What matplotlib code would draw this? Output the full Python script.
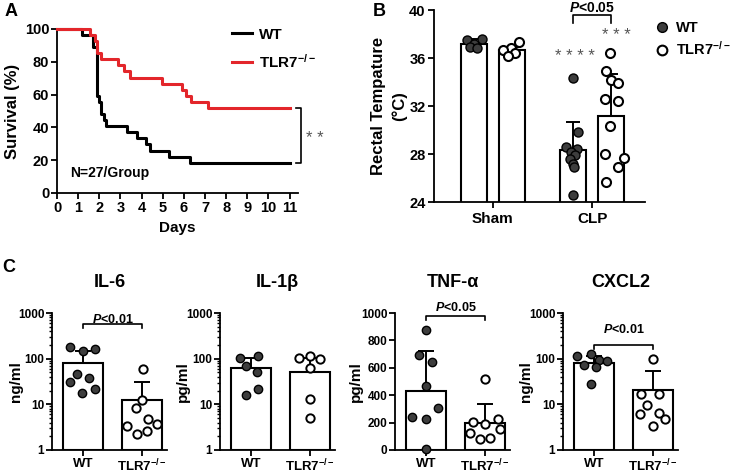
import numpy as np
import matplotlib
matplotlib.use('Agg')
import matplotlib.pyplot as plt
from matplotlib.lines import Line2D
from matplotlib.ticker import FixedLocator, FuncFormatter, NullFormatter, LogLocator

plt.rcParams['font.family'] = 'Liberation Sans'
plt.rcParams['font.weight'] = 'bold'
plt.rcParams['axes.labelweight'] = 'bold'
plt.rcParams['mathtext.fontset'] = 'custom'
plt.rcParams['mathtext.default'] = 'regular'
plt.rcParams['mathtext.it'] = 'Liberation Sans:italic:bold'
plt.rcParams['axes.linewidth'] = 1.3

### Data
# A - survival (%) after CLP
wt_days = [0, 1.2, 1.7, 1.9, 2.0, 2.1, 2.2, 2.3, 3.3, 3.8, 4.2, 4.4, 5.3, 6.3, 11]
wt_surv = [100, 96.3, 88.9, 59.3, 55.6, 48.1, 44.4, 40.7, 37.0, 33.3, 29.6, 25.9, 22.2, 18.5, 18.5]
ko_days = [0, 1.55, 1.8, 1.9, 2.1, 2.9, 3.15, 3.45, 4.95, 5.9, 6.1, 6.35, 7.15, 11]
ko_surv = [100, 96.3, 92.6, 85.2, 81.5, 77.8, 74.1, 70.4, 66.7, 63.0, 59.3, 55.6, 51.9, 51.9]

# B - rectal temperature
groups = ['Sham', 'CLP']
temp_wt_mean = [37.2, 28.3]
temp_wt_sd = [0.35, 2.4]
temp_ko_mean = [36.65, 31.15]
temp_ko_sd = [0.3, 3.55]
temp_wt = [[37.6, 37.5, 37.2, 36.9, 36.8],
           [34.3, 29.8, 28.6, 28.4, 28.2, 27.9, 27.6, 27.2, 26.9, 24.6]]
temp_ko = [[37.3, 36.8, 36.7, 36.4, 36.2],
           [36.4, 34.9, 34.2, 33.9, 32.6, 32.4, 30.3, 28.0, 27.7, 26.9, 25.7]]
jit_wt = [[0.08, -0.07, 0.0, -0.04, 0.03],
          [0, 0.05, -0.07, 0.04, -0.02, 0.02, -0.03, 0, 0.01, 0]]
jit_ko = [[0.07, -0.01, -0.09, 0.03, -0.04],
          [-0.01, -0.05, 0, 0.07, -0.06, 0.07, -0.01, -0.06, 0.13, 0.07, -0.05]]

# C - cytokines
cyto_names = ['IL-6', 'IL-1\u03b2', 'TNF-\u03b1', 'CXCL2']
cyto_units = ['ng/ml', 'pg/ml', 'pg/ml', 'ng/ml']
cyto_log = [True, True, False, True]
cyto_wt_mean = [82, 62, 431, 81]
cyto_wt_sd = [66, 40, 290, 34]
cyto_ko_mean = [12.5, 52, 196, 20.6]
cyto_ko_sd = [18.9, 50, 141, 33]
cyto_wt = [[183, 150, 163, 46, 38, 31, 22, 18],
           [102, 117, 70, 51, 21.8, 16.2],
           [875, 690, 645, 470, 305, 240, 228, 5],
           [117, 126, 95, 72, 66, 88, 28]]
cyto_ko = [[58, 12.5, 8.2, 4.7, 3.4, 3.7, 2.2, 2.65],
           [102, 112, 100, 61, 13, 4.9],
           [518, 203, 188, 228, 121, 154, 77, 84],
           [98, 17, 17, 9.8, 6.1, 6.4, 4.7, 3.3]]
cyto_jit_wt = [[-0.22, 0, 0.2, -0.1, 0.1, -0.22, 0.2, -0.02],
               [-0.18, 0.12, -0.08, 0.1, 0.12, -0.08],
               [0, -0.12, 0.1, 0, 0.2, -0.23, 0, 0],
               [-0.29, -0.04, 0.09, -0.16, 0.03, 0.22, -0.04]]
cyto_jit_ko = [[0.02, 0, -0.1, 0.1, -0.25, 0.25, -0.08, 0.08],
               [-0.19, 0, 0.17, 0, 0, 0],
               [0, -0.2, 0, 0.21, -0.25, 0.25, -0.09, 0.09],
               [0, -0.2, 0.1, -0.1, -0.22, 0.1, 0.2, 0]]
cyto_p = ['P<0.01', None, 'P<0.05', 'P<0.01']

RED = '#e3262b'
DARK = '#3d3d3d'
STAR = '#555555'
KO_LABEL = 'TLR7$^{-/-}$'

W, H = 739, 475
fig = plt.figure(figsize=(W / 100, H / 100), dpi=100)

def px_axes(l, t, r, b):
    return fig.add_axes([l / W, 1 - b / H, (r - l) / W, (b - t) / H])

def style(ax):
    for s in ['top', 'right']:
        ax.spines[s].set_visible(False)
    ax.tick_params(direction='out', length=4, width=1.3, labelsize=9)


### A
axA = px_axes(57, 29, 298, 193)
style(axA)
axA.step(wt_days, wt_surv, where='post', color='k', lw=2.2, clip_on=False, zorder=3)
axA.step(ko_days, ko_surv, where='post', color=RED, lw=2.2, clip_on=False, zorder=3)
axA.set_xlim(0, 11.4)
axA.set_ylim(0, 100)
axA.set_xticks(range(0, 12))
axA.set_yticks(range(0, 101, 20))
axA.tick_params(labelsize=10.5, pad=1.5)
axA.set_xlabel('Days', fontsize=11)
axA.set_ylabel('Survival (%)', fontsize=12)
axA.xaxis.set_label_coords(0.5, -0.17)
axA.yaxis.set_label_coords(-0.155, 0.5)
xb = 11.55
axA.plot([11.3, xb, xb, 11.3], [ko_surv[-1], ko_surv[-1], wt_surv[-1], wt_surv[-1]],
         color='k', lw=1.2, clip_on=False)
axA.text(12.2, (ko_surv[-1] + wt_surv[-1]) / 2 - 2, '* *', fontsize=12, fontweight='normal',
         color=STAR, ha='center', va='center')
axA.text(0.22, 0.12, 'N=27/Group', transform=axA.transAxes, fontsize=10, ha='center', va='center')
hA = [Line2D([], [], color='k', lw=2.2), Line2D([], [], color=RED, lw=2.2)]
axA.legend(hA, ['WT', KO_LABEL], loc='upper left', bbox_to_anchor=(0.7, 1.045), frameon=False,
           fontsize=11, handlelength=1.3, handletextpad=0.5, labelspacing=0.7, borderaxespad=0)
fig.text(11 / W, 1 - 12 / H, 'A', fontsize=13, ha='center', va='center')

### B
axB = px_axes(434, 10, 645, 202)
style(axB)
xg = np.arange(len(groups))
off, bw = 0.19, 0.26
axB.bar(xg - off, temp_wt_mean, bw, color='white', edgecolor='k', lw=1.5, zorder=2)
axB.bar(xg + off, temp_ko_mean, bw, color='white', edgecolor='k', lw=1.5, zorder=2)
axB.errorbar(xg - off, temp_wt_mean, yerr=[np.zeros(2), temp_wt_sd], fmt='none', ecolor='k',
             elinewidth=1.4, capsize=5, capthick=1.4, zorder=2.5)
axB.errorbar(xg + off, temp_ko_mean, yerr=[np.zeros(2), temp_ko_sd], fmt='none', ecolor='k',
             elinewidth=1.4, capsize=5, capthick=1.4, zorder=2.5)
for i in range(len(groups)):
    axB.plot(xg[i] - off + np.array(jit_wt[i]), temp_wt[i], 'o', ms=6.5, mfc=DARK, mec='k',
             mew=1, zorder=3, clip_on=False)
    axB.plot(xg[i] + off + np.array(jit_ko[i]), temp_ko[i], 'o', ms=6.5, mfc='white', mec='k',
             mew=1.5, zorder=3, clip_on=False)
axB.set_xlim(-0.59, 1.53)
axB.set_ylim(24, 40)
axB.set_yticks([24, 28, 32, 36, 40])
axB.set_xticks(xg)
axB.set_xticklabels(groups, fontsize=11)
axB.tick_params(axis='y', labelsize=10.5, pad=2)
axB.set_ylabel('Rectal Tempature\n(\u00b0C)', fontsize=12, linespacing=1.45)
axB.yaxis.set_label_coords(-0.125, 0.5)
x1, x2 = 1 - off, 1 + off
axB.plot([x1, x1, x2, x2], [38.9, 39.6, 39.6, 38.9], color='k', lw=1.2, clip_on=False)
axB.text(1, 40.2, '$\\it{P}$<0.05', fontsize=10, ha='center', va='center')
axB.text(x1 + 0.02, 36.1, '* * * *', fontsize=12, fontweight='normal', color=STAR,
         ha='center', va='center')
axB.text(x2 + 0.05, 37.85, '* * *', fontsize=12, fontweight='normal', color=STAR,
         ha='center', va='center')
hB = [Line2D([], [], ls='none', marker='o', ms=7, mfc=DARK, mec='k'),
      Line2D([], [], ls='none', marker='o', ms=7, mfc='white', mec='k', mew=1.5)]
axB.legend(hB, ['WT', KO_LABEL], loc='upper left', bbox_to_anchor=(1.02, 0.975), frameon=False,
           fontsize=10.5, handlelength=1.0, handletextpad=0.45, labelspacing=0.35, borderaxespad=0)
fig.text(379 / W, 1 - 12 / H, 'B', fontsize=13, ha='center', va='center')

### C
c_lefts = [52, 220, 395, 563]
lab_x = [-0.25, -0.265, -0.28, -0.26]
p_text_y = [0.956, None, 1.04, 0.88]
p_bar_y = [0.92, None, 0.975, 0.766]
for k in range(4):
    ax = px_axes(c_lefts[k], 313, c_lefts[k] + 115, 450)
    style(ax)
    xc = np.array([0, 1])
    if cyto_log[k]:
        ax.set_yscale('log')
        ax.set_ylim(1, 1000)
        ax.yaxis.set_major_locator(FixedLocator([1, 10, 100, 1000]))
        ax.yaxis.set_major_formatter(FuncFormatter(lambda v, p: f'{v:g}'))
        ax.yaxis.set_minor_locator(LogLocator(base=10, subs=np.arange(2, 10)))
        ax.yaxis.set_minor_formatter(NullFormatter())
        ax.tick_params(axis='y', which='minor', length=2.5, width=1)
        base = 1
    else:
        ax.set_ylim(0, 1000)
        ax.set_yticks(range(0, 1001, 200))
        base = 0
    means = [cyto_wt_mean[k], cyto_ko_mean[k]]
    sds = [cyto_wt_sd[k], cyto_ko_sd[k]]
    ax.bar(xc, np.array(means) - base, 0.68, bottom=base, color='white', edgecolor='k',
           lw=1.5, zorder=2)
    ax.errorbar(xc, means, yerr=[np.zeros(2), sds], fmt='none', ecolor='k', elinewidth=1.4,
                capsize=6, capthick=1.4, zorder=2.5)
    ax.plot(xc[0] + np.array(cyto_jit_wt[k]), cyto_wt[k], 'o', ms=6, mfc=DARK, mec='k', mew=1,
            zorder=3, clip_on=False)
    ax.plot(xc[1] + np.array(cyto_jit_ko[k]), cyto_ko[k], 'o', ms=6, mfc='white', mec='k',
            mew=1.4, zorder=3, clip_on=False)
    ax.set_xlim(-0.52, 1.42)
    ax.set_xticks(xc)
    ax.set_xticklabels(['WT', KO_LABEL], fontsize=9.5)
    ax.tick_params(axis='x', pad=1.5)
    ax.tick_params(axis='y', labelsize=8.5, pad=1.5)
    ax.set_ylabel(cyto_units[k], fontsize=11)
    ax.yaxis.set_label_coords(lab_x[k], 0.5)
    ax.text(0.5, 1.22, cyto_names[k], transform=ax.transAxes, fontsize=13, ha='center', va='center')
    if cyto_p[k]:
        tr = ax.get_xaxis_transform()
        yb = p_bar_y[k]
        ax.plot([0, 0, 1, 1], [yb - 0.028, yb, yb, yb - 0.028], color='k', lw=1.2,
                transform=tr, clip_on=False)
        ax.text(0.5, p_text_y[k], '$\\it{P}$' + cyto_p[k][1:], transform=tr, fontsize=9,
                ha='center', va='center')
fig.text(9 / W, 1 - 268 / H, 'C', fontsize=13, ha='center', va='center')

fig.savefig('out.png', dpi=100)
